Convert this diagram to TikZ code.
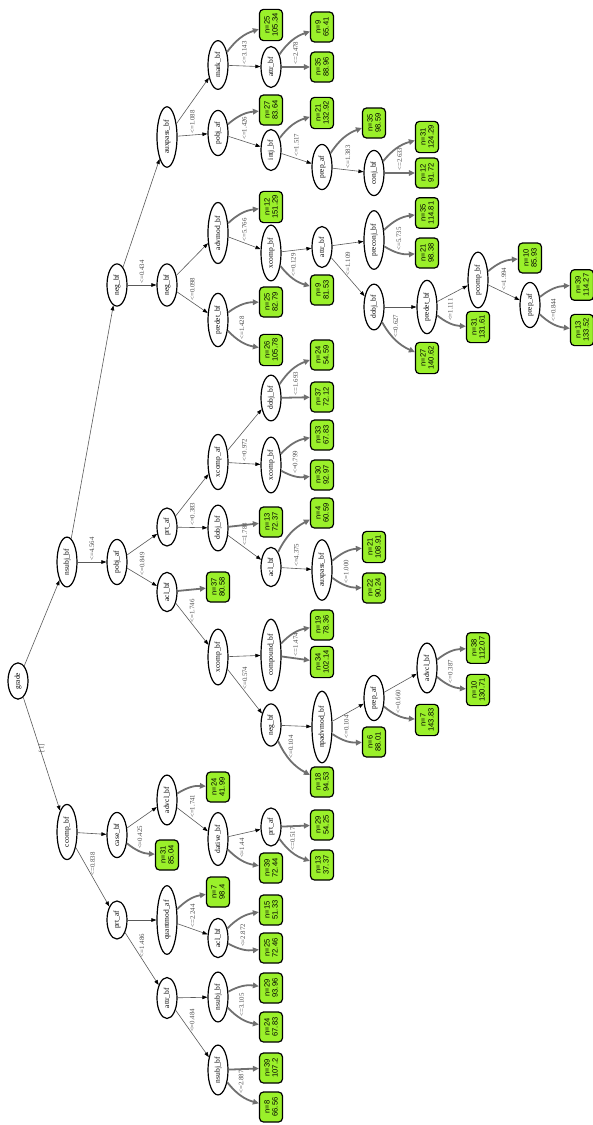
\documentclass[tikz,border=0pt]{standalone}
\usepackage{fontspec}
\usetikzlibrary{shapes.geometric,arrows.meta}
\newfontfamily\tnr{Liberation Serif}
\newfontfamily\arl{Liberation Sans}
\definecolor{leafg}{RGB}{154,240,42}
\definecolor{edgegray}{RGB}{112,112,112}
\begin{document}
\begin{tikzpicture}[x=1pt,y=1pt,
  inn/.style={ellipse, draw=black, line width=1.2pt, fill=white, rotate=90,
    font=\tnr\fontsize{7.5}{8}\selectfont, inner xsep=4.5pt, inner ysep=1pt, minimum height=20pt},
  leaf/.style={rectangle, rounded corners=4pt, draw=black, line width=1.2pt, fill=leafg, rotate=90,
    font=\arl\fontsize{7.6}{8}\selectfont, align=center, inner xsep=4pt, inner ysep=2pt,
    minimum width=30pt, minimum height=23pt},
  ie/.style={draw=black!65, line width=0.6pt, -{Triangle[length=5pt,width=3.6pt,color=black]}},
  le/.style={draw=edgegray, line width=1.8pt, -{Triangle[length=6pt,width=5.5pt]}},
  up/.style={bend left=18},
  dn/.style={bend right=18},
  lbl/.style={rotate=90, anchor=west, font=\tnr\fontsize{6.8}{7}\selectfont, text=black!70, inner sep=1.5pt}
]
\useasboundingbox (0,0) rectangle (593,-1125);
% inner nodes and leaves
\node[inn] (g) at (18,-681) {grade};
\node[inn] (a) at (67,-562) {nsubj\_bf};
\node[inn] (b) at (117,-285) {neg\_bf};
\node[inn] (c) at (167,-137) {auxpass\_bf};
\node[inn] (d) at (218,-65) {mark\_bf};
\node[leaf] (L1) at (271,-25) {n=25\\105.34};
\node[inn] (e) at (271,-67) {attr\_bf};
\node[leaf] (L2) at (322,-27) {n=9\\65.41};
\node[leaf] (L3) at (322,-67) {n=35\\88.96};
\node[inn] (f) at (218,-133) {pobj\_af};
\node[leaf] (L4) at (271,-110) {n=27\\83.64};
\node[inn] (h) at (271,-150) {intj\_bf};
\node[leaf] (L5) at (322,-113) {n=21\\132.92};
\node[inn] (i) at (322,-167) {prep\_af};
\node[leaf] (L6) at (374,-123) {n=35\\98.59};
\node[inn] (j) at (374,-173) {conj\_bf};
\node[leaf] (L7) at (427,-137) {n=31\\124.29};
\node[leaf] (L8) at (427,-173) {n=12\\91.72};
\node[inn] (k) at (167,-285) {neg\_bf};
\node[inn] (l) at (218,-233) {advmod\_bf};
\node[leaf] (L9) at (271,-207) {n=12\\151.29};
\node[inn] (m) at (271,-253) {xcomp\_bf};
\node[inn] (n1) at (322,-247) {attr\_bf};
\node[inn] (o) at (374,-240) {preconj\_bf};
\node[leaf] (L10) at (427,-213) {n=35\\114.81};
\node[leaf] (L11) at (427,-253) {n=21\\98.38};
\node[inn] (p) at (374,-307) {dobj\_bf};
\node[inn] (q) at (427,-307) {predet\_bf};
\node[inn] (r) at (478,-280) {pcomp\_bf};
\node[leaf] (L12) at (530,-258) {n=10\\85.93};
\node[inn] (s) at (530,-305) {prep\_af};
\node[leaf] (L13) at (582,-285) {n=39\\114.27};
\node[leaf] (L14) at (582,-330) {n=13\\133.52};
\node[leaf] (L15) at (478,-327) {n=31\\131.61};
\node[leaf] (L16) at (427,-358) {n=27\\140.62};
\node[leaf] (L17) at (322,-290) {n=9\\81.53};
\node[inn] (t) at (218,-320) {predet\_bf};
\node[leaf] (L18) at (271,-302) {n=25\\82.79};
\node[leaf] (L19) at (271,-350) {n=26\\105.78};
\node[inn] (u) at (117,-562) {pobj\_af};
\node[inn] (v) at (167,-527) {prt\_af};
\node[inn] (w) at (218,-462) {xcomp\_af};
\node[inn] (x) at (271,-398) {dobj\_bf};
\node[leaf] (L20) at (322,-355) {n=24\\54.59};
\node[leaf] (L21) at (322,-397) {n=37\\72.12};
\node[inn] (y) at (271,-465) {xcomp\_bf};
\node[leaf] (L22) at (322,-435) {n=33\\67.83};
\node[leaf] (L23) at (322,-475) {n=30\\92.97};
\node[inn] (z) at (218,-528) {dobj\_bf};
\node[leaf] (L24) at (271,-522) {n=13\\72.37};
\node[inn] (aa) at (271,-567) {acl\_bf};
\node[leaf] (L25) at (322,-513) {n=4\\60.59};
\node[inn] (ab) at (322,-570) {auxpass\_bf};
\node[leaf] (L26) at (374,-547) {n=21\\108.91};
\node[leaf] (L27) at (374,-588) {n=22\\90.24};
\node[inn] (ac) at (167,-592) {acl\_bf};
\node[leaf] (L28) at (218,-587) {n=37\\80.58};
\node[inn] (ad) at (218,-657) {xcomp\_bf};
\node[inn] (ae) at (271,-655) {compound\_bf};
\node[leaf] (L29) at (322,-625) {n=19\\78.36};
\node[leaf] (L30) at (322,-662) {n=34\\102.14};
\node[inn] (af) at (271,-725) {neg\_bf};
\node[inn] (ag) at (322,-727) {npadvmod\_bf};
\node[inn] (ah) at (374,-698) {prep\_af};
\node[inn] (ai) at (427,-668) {advcl\_bf};
\node[leaf] (L31) at (478,-648) {n=38\\112.07};
\node[leaf] (L32) at (478,-690) {n=10\\130.71};
\node[leaf] (L33) at (427,-720) {n=7\\143.83};
\node[leaf] (L34) at (374,-742) {n=6\\88.01};
\node[leaf] (L35) at (322,-782) {n=18\\94.53};
\node[inn] (aj) at (67,-832) {ccomp\_bf};
\node[inn] (ak) at (117,-835) {case\_bf};
\node[inn] (al) at (167,-800) {advcl\_bf};
\node[leaf] (L36) at (218,-787) {n=24\\41.99};
\node[inn] (am) at (218,-839) {dative\_bf};
\node[inn] (an) at (271,-827) {prt\_af};
\node[leaf] (L37) at (322,-825) {n=29\\54.25};
\node[leaf] (L38) at (322,-865) {n=13\\37.37};
\node[leaf] (L39) at (271,-868) {n=39\\72.44};
\node[leaf] (L40) at (167,-855) {n=31\\85.04};
\node[inn] (ao) at (117,-920) {prt\_af};
\node[inn] (ap) at (167,-920) {quantmod\_af};
\node[leaf] (L41) at (218,-892) {n=7\\98.4};
\node[inn] (aq) at (218,-938) {acl\_bf};
\node[leaf] (L42) at (271,-910) {n=15\\51.33};
\node[leaf] (L43) at (271,-948) {n=25\\72.46};
\node[inn] (ar) at (167,-998) {attr\_bf};
\node[inn] (as) at (218,-997) {nsubj\_bf};
\node[leaf] (L44) at (271,-988) {n=29\\93.96};
\node[leaf] (L45) at (271,-1027) {n=24\\67.83};
\node[inn] (at) at (218,-1070) {nsubj\_bf};
\node[leaf] (L46) at (271,-1068) {n=39\\107.2};
\node[leaf] (L47) at (271,-1107) {n=8\\66.56};
% thin edges between inner nodes
\draw[ie] (g) -- (a);
\draw[ie] (g) -- node[lbl]{[1]} (aj);
\draw[ie] (a) -- (b);
\draw[ie] (a) -- node[lbl]{<=4.564} (u);
\draw[ie] (b) -- (c);
\draw[ie] (b) -- node[lbl]{<=0.434} (k);
\draw[ie] (c) -- (d);
\draw[ie] (c) -- node[lbl]{<=1.088} (f);
\draw[ie] (d) -- node[lbl]{<=3.143} (e);
\draw[ie] (f) -- node[lbl]{<=1.426} (h);
\draw[ie] (h) -- node[lbl]{<=1.517} (i);
\draw[ie] (i) -- node[lbl]{<=1.383} (j);
\draw[ie] (k) -- (l);
\draw[ie] (k) -- node[lbl]{<=0.098} (t);
\draw[ie] (l) -- node[lbl]{<=5.766} (m);
\draw[ie] (m) -- (n1);
\draw[ie] (n1) -- (o);
\draw[ie] (n1) -- node[lbl]{<=1.109} (p);
\draw[ie] (p) -- (q);
\draw[ie] (q) -- (r);
\draw[ie] (r) -- node[lbl]{<=1.994} (s);
\draw[ie] (u) -- (v);
\draw[ie] (u) -- node[lbl]{<=0.849} (ac);
\draw[ie] (v) -- (w);
\draw[ie] (v) -- node[lbl]{<=0.383} (z);
\draw[ie] (w) -- (x);
\draw[ie] (w) -- node[lbl]{<=0.972} (y);
\draw[ie] (z) -- node[lbl]{<=1.783} (aa);
\draw[ie] (aa) -- node[lbl]{<=4.375} (ab);
\draw[ie] (ac) -- node[lbl]{<=1.746} (ad);
\draw[ie] (ad) -- (ae);
\draw[ie] (ad) -- node[lbl]{<=0.574} (af);
\draw[ie] (af) -- (ag);
\draw[ie] (ag) -- (ah);
\draw[ie] (ah) -- (ai);
\draw[ie] (aj) -- (ak);
\draw[ie] (aj) -- node[lbl]{<=0.838} (ao);
\draw[ie] (ak) -- (al);
\draw[ie] (al) -- node[lbl]{<=1.741} (am);
\draw[ie] (am) -- (an);
\draw[ie] (ao) -- (ap);
\draw[ie] (ao) -- node[lbl]{<=1.486} (ar);
\draw[ie] (ap) -- node[lbl]{<=2.244} (aq);
\draw[ie] (ar) -- (as);
\draw[ie] (ar) -- node[lbl]{<=0.484} (at);
% thick edges to leaves
\draw[le] (d) to[up] (L1);
\draw[le] (e) to[up] (L2);
\draw[le] (e) -- node[lbl]{<=2.478} (L3);
\draw[le] (f) to[up] (L4);
\draw[le] (h) to[up] (L5);
\draw[le] (i) to[up] (L6);
\draw[le] (j) to[up] (L7);
\draw[le] (j) -- node[lbl]{<=2.633} (L8);
\draw[le] (l) to[up] (L9);
\draw[le] (m) to[dn] node[lbl]{<=0.129} (L17);
\draw[le] (o) to[up] (L10);
\draw[le] (o) to[dn] node[lbl]{<=5.735} (L11);
\draw[le] (p) to[dn] node[lbl]{<=0.627} (L16);
\draw[le] (q) to[dn] node[lbl]{<=1.111} (L15);
\draw[le] (r) to[up] (L12);
\draw[le] (s) to[up] (L13);
\draw[le] (s) to[dn] node[lbl]{<=0.844} (L14);
\draw[le] (t) to[up] (L18);
\draw[le] (t) to[dn] node[lbl]{<=1.428} (L19);
\draw[le] (x) to[up] (L20);
\draw[le] (x) -- node[lbl]{<=1.693} (L21);
\draw[le] (y) to[up] (L22);
\draw[le] (y) to[dn] node[lbl]{<=0.799} (L23);
\draw[le] (z) -- (L24);
\draw[le] (aa) to[up] (L25);
\draw[le] (ab) to[up] (L26);
\draw[le] (ab) to[dn] node[lbl]{<=1.000} (L27);
\draw[le] (ac) -- (L28);
\draw[le] (ae) to[up] (L29);
\draw[le] (ae) -- node[lbl]{<=1.474} (L30);
\draw[le] (ai) to[up] (L31);
\draw[le] (ai) to[dn] node[lbl]{<=0.387} (L32);
\draw[le] (ah) to[dn] node[lbl]{<=0.660} (L33);
\draw[le] (ag) to[dn] node[lbl]{<=0.104} (L34);
\draw[le] (af) to[dn] node[lbl]{<=0.104} (L35);
\draw[le] (al) to[up] (L36);
\draw[le] (an) -- (L37);
\draw[le] (an) to[dn] node[lbl]{<=0.517} (L38);
\draw[le] (am) to[dn] node[lbl]{<=1.44} (L39);
\draw[le] (ak) to[dn] node[lbl]{<=0.425} (L40);
\draw[le] (ap) to[up] (L41);
\draw[le] (aq) to[up] (L42);
\draw[le] (aq) to[dn] node[lbl]{<=2.872} (L43);
\draw[le] (as) to[up] (L44);
\draw[le] (as) to[dn] node[lbl]{<=3.105} (L45);
\draw[le] (at) -- (L46);
\draw[le] (at) to[dn] node[lbl]{<=2.887} (L47);
\end{tikzpicture}
\end{document}
